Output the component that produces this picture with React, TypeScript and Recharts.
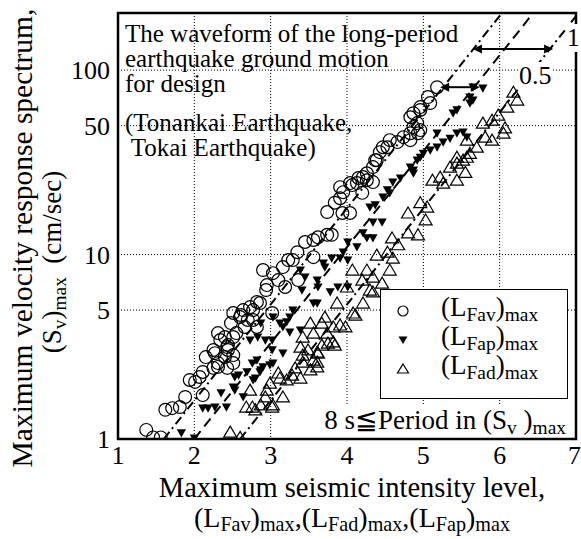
import React from 'react';
import { ScatterChart, Scatter, XAxis, YAxis, CartesianGrid, ReferenceLine, ReferenceArea } from 'recharts';

const xTicks = [1, 2, 3, 4, 5, 6, 7];
const yTicks = [1, 5, 10, 50, 100];

// (L_Fav)max vs (Sv)max
const favPoints = [
    [1.37, 1.12], [1.46, 1.02], [1.56, 1.02], [1.62, 1.44], [1.71, 1.47], [1.81, 1.49], [1.88, 1.69],
    [1.94, 2.09], [2.01, 2.04], [2.07, 2.17], [2.11, 2.31], [2.11, 1.73], [2.15, 2.78], [2.25, 2.43],
    [2.31, 2.58], [2.27, 2.92], [2.31, 2.46], [2.43, 2.43], [2.51, 2.58], [2.4, 2.78], [2.44, 3.04],
    [2.44, 3.23], [2.51, 2.85], [2.31, 3.75], [2.4, 3.57], [2.48, 4.25], [2.55, 3.75], [2.61, 4.7],
    [2.66, 4.05], [2.77, 4.42], [2.86, 5.46], [2.94, 6.42], [2.34, 3.44], [2.25, 3.04], [2.51, 3.57],
    [2.43, 3.15], [2.51, 4.82], [2.6, 4.58], [2.7, 4.42], [2.77, 5.0], [2.82, 4.05], [3.02, 4.82],
    [2.64, 5.0], [2.73, 5.19], [2.82, 5.53], [2.9, 8.24], [2.95, 6.83], [3.03, 7.93], [3.1, 7.27],
    [3.19, 6.67], [3.16, 8.55], [3.23, 9.33], [3.29, 9.33], [3.35, 10.3], [3.36, 7.27], [3.45, 11.7],
    [3.56, 9.68], [3.56, 12.0], [3.62, 12.4], [3.74, 12.8], [3.8, 12.8], [3.74, 17.0], [3.84, 19.1],
    [3.91, 20.2], [3.94, 16.8], [4.04, 16.8], [3.95, 21.8], [4.07, 23.8], [4.13, 24.4], [4.2, 21.6],
    [4.26, 25.3], [4.34, 24.7], [3.91, 23.2], [4.04, 24.4], [4.15, 26.0], [4.21, 26.3], [4.26, 27.6],
    [4.34, 29.8], [4.37, 32.5], [4.43, 35.9], [4.47, 38.2], [4.56, 41.7], [4.66, 40.7], [4.74, 43.3],
    [4.83, 55.5], [4.87, 58.4], [4.96, 60.8], [4.92, 51.6], [4.87, 49.1], [4.96, 47.3], [4.93, 45.5],
    [4.83, 45.5], [4.83, 41.7], [5.06, 71.4], [5.09, 66.3], [4.96, 63.0], [5.18, 80.8], [4.53, 38.2],
    [4.39, 32.5],
];

// (L_Fap)max vs (Sv)max
const fapPoints = [
    [1.83, 1.08], [2.0, 1.01], [2.11, 1.47], [2.18, 1.47], [2.27, 1.49], [2.42, 1.49], [2.35, 1.78],
    [2.53, 1.84], [2.53, 2.17], [2.64, 1.69], [2.58, 2.22], [2.8, 2.14], [2.87, 2.37], [2.83, 3.57],
    [2.87, 4.25], [2.93, 3.44], [2.51, 1.91], [2.69, 2.31], [2.76, 2.58], [2.86, 2.31], [2.99, 2.52],
    [3.02, 3.44], [2.82, 2.68], [3.03, 4.58], [3.16, 4.05], [3.25, 3.8], [3.21, 4.31], [3.02, 3.04],
    [3.16, 2.92], [3.03, 2.58], [2.77, 2.09], [2.9, 2.46], [3.39, 3.9], [3.61, 5.46], [3.78, 6.27],
    [3.29, 5.0], [2.73, 3.44], [3.39, 8.24], [3.45, 7.54], [3.61, 7.27], [3.62, 6.67], [3.71, 8.55],
    [3.8, 9.56], [3.88, 6.67], [4.01, 6.67], [3.95, 10.3], [4.01, 9.33], [4.01, 11.7], [4.13, 11.0],
    [4.26, 12.3], [4.34, 12.3], [4.34, 15.0], [4.46, 15.0], [4.3, 18.1], [4.37, 18.6], [4.47, 20.5],
    [4.53, 22.4], [4.56, 21.6], [3.56, 5.46], [3.41, 6.42], [4.21, 13.1], [3.91, 9.56], [3.69, 8.98],
    [3.25, 4.58], [3.12, 4.25], [4.6, 24.7], [4.7, 26.0], [4.83, 29.8], [4.87, 28.7], [4.92, 32.5],
    [4.96, 33.7], [5.09, 36.8], [5.18, 38.2], [5.26, 40.7], [5.35, 42.7], [5.44, 45.5], [5.52, 46.1],
    [5.39, 58.4], [5.44, 60.8], [5.61, 66.3], [5.65, 68.8], [5.61, 71.4], [5.65, 80.8], [5.78, 79.8],
    [5.18, 45.5], [5.0, 35.4], [4.87, 27.6], [5.57, 43.3],
];

// (L_Fad)max vs (Sv)max
const fadPoints = [
    [2.47, 1.09], [2.6, 1.02], [2.68, 1.49], [2.73, 1.84], [2.8, 1.44], [2.87, 1.53], [2.93, 1.69],
    [2.76, 1.49], [3.02, 1.49], [3.16, 1.69], [2.95, 1.84], [3.12, 2.14], [3.28, 2.22], [3.39, 2.14],
    [3.42, 2.85], [3.56, 2.68], [3.61, 2.46], [3.62, 2.92], [3.82, 3.36], [3.03, 1.53], [2.99, 2.01],
    [3.1, 2.28], [3.21, 2.09], [3.32, 2.43], [3.42, 2.61], [3.52, 2.37], [3.61, 2.61], [3.61, 2.96],
    [3.49, 3.04], [3.39, 3.15], [3.42, 3.57], [3.56, 3.75], [3.67, 3.23], [3.75, 3.31], [3.84, 3.23],
    [3.74, 3.75], [3.82, 4.05], [3.91, 4.15], [3.67, 4.25], [3.52, 4.25], [3.87, 5.46], [3.98, 4.05],
    [4.11, 4.7], [4.21, 5.46], [4.34, 6.27], [4.07, 8.24], [4.26, 8.24], [4.39, 9.93], [4.53, 10.3],
    [4.2, 7.27], [4.3, 6.42], [4.46, 7.0], [4.0, 6.67], [4.59, 12.3], [4.56, 8.24], [4.34, 7.54],
    [4.08, 4.82], [3.71, 4.58], [5.12, 25.3], [5.26, 24.4], [5.44, 25.3], [5.55, 27.9], [4.96, 19.1],
    [5.05, 18.1], [4.8, 16.8], [5.03, 15.4], [4.8, 13.1], [4.93, 12.8], [4.67, 11.3], [4.6, 9.56],
    [5.57, 41.7], [5.7, 38.2], [5.61, 35.4], [5.52, 32.5], [5.44, 31.3], [5.35, 29.8], [5.22, 26.3],
    [5.44, 33.7], [6.23, 68.8], [6.1, 63.0], [5.98, 57.0], [5.9, 53.5], [6.07, 48.6], [6.05, 45.5],
    [5.81, 43.3], [5.9, 41.7], [5.57, 33.7], [5.78, 51.6], [6.18, 75.9],
];

// guide lines (two ends each)
const dashDotLeft = [[1.6, 1], [6.03, 204]];
const dashedMid = [[2.0, 1], [6.44, 204]];
const dashDotRight = [[2.6, 1], [7, 196]];
const arrowOne = [[5.65, 130], [6.7, 130]];
const arrowHalf = [[5.22, 80.8], [5.74, 80.8]];

const toXY = (arr: number[][]) => arr.map(([x, y]) => ({ x, y }));

const serif = '"Liberation Serif", "DejaVu Serif", serif';

const OpenCircle = (p: any) => <circle cx={p.cx} cy={p.cy} r={6.4} fill="none" stroke="#000" strokeWidth={1.2} />;
const DownTri = (p: any) => (
    <polygon points={`${p.cx - 4.6},${p.cy - 3.6} ${p.cx + 4.6},${p.cy - 3.6} ${p.cx},${p.cy + 4.6}`} fill="#000" />
);
const UpTri = (p: any) => (
    <polygon points={`${p.cx},${p.cy - 6} ${p.cx + 6.5},${p.cy + 5} ${p.cx - 6.5},${p.cy + 5}`} fill="none" stroke="#000" strokeWidth={1.2} />
);

const DoubleArrow = (p: any) => {
    const { x1, y1, x2, y2 } = p;
    return (
        <g>
            <line x1={x1 + 7} y1={y1} x2={x2 - 7} y2={y2} stroke="#000" strokeWidth={2} />
            <polygon points={`${x1},${y1} ${x1 + 9},${y1 - 4.5} ${x1 + 9},${y1 + 4.5}`} fill="#000" />
            <polygon points={`${x2},${y2} ${x2 - 9},${y2 - 4.5} ${x2 - 9},${y2 + 4.5}`} fill="#000" />
        </g>
    );
};

const sub = { fontSize: '0.72em', verticalAlign: '-0.25em' } as const;
const subLow = { fontSize: '0.72em', verticalAlign: '-0.18em', lineHeight: 1 } as const;

const LegendBox = () => (
    <div style={{ position: 'absolute', left: 380, top: 289, width: 186, height: 108, border: '1.5px solid #000', background: '#fff', fontFamily: serif, fontSize: 27 }}>
        {[
            ['Fav', <circle cx={8} cy={8} r={5} fill="none" stroke="#000" strokeWidth={1.2} />],
            ['Fap', <polygon points="3.5,4.5 12.5,4.5 8,12" fill="#000" />],
            ['Fad', <polygon points="8,3 13.5,12 2.5,12" fill="none" stroke="#000" strokeWidth={1.2} />],
        ].map(([name, icon], i) => (
            <div key={i} style={{ position: 'absolute', left: 14, top: 6 + i * 29, height: 30, display: 'flex', alignItems: 'center', whiteSpace: 'nowrap' }}>
                <svg width={16} height={16} style={{ marginRight: 30 }}>{icon}</svg>
                <span style={{ lineHeight: '30px' }}>(L<span style={sub}>{name}</span>)<span style={sub}>max</span></span>
            </div>
        ))}
    </div>
);

export default function App() {
    return (
        <div style={{ position: 'relative', width: 581, height: 539, background: '#fff', fontFamily: serif, color: '#000', overflow: 'hidden' }}>
            <style>{'body{margin:0}'}</style>
            <ScatterChart width={581} height={539} margin={{ top: 13, right: 5, left: 0, bottom: 0 }}>
                <CartesianGrid stroke="#000" strokeWidth={1} strokeDasharray="1 2" />
                <XAxis
                    type="number"
                    dataKey="x"
                    domain={[1, 7]}
                    ticks={xTicks}
                    height={100}
                    axisLine={false}
                    tickLine={false}
                    tick={{ fontSize: 26, fill: '#000', fontFamily: serif }}
                    tickMargin={1}
                    allowDataOverflow
                />
                <YAxis
                    type="number"
                    dataKey="y"
                    scale="log"
                    domain={[1, 204]}
                    ticks={yTicks}
                    width={118}
                    axisLine={false}
                    tickLine={false}
                    tick={{ fontSize: 26, fill: '#000', fontFamily: serif }}
                    allowDataOverflow
                />
                <ReferenceLine segment={toXY(dashDotLeft)} stroke="#000" strokeWidth={2} strokeDasharray="9 4 2 4" ifOverflow="visible" />
                <ReferenceLine segment={toXY(dashedMid)} stroke="#000" strokeWidth={2} strokeDasharray="10 6" ifOverflow="visible" />
                <ReferenceLine segment={toXY(dashDotRight)} stroke="#000" strokeWidth={2} strokeDasharray="9 4 2 4" ifOverflow="visible" />
                <Scatter data={toXY(favPoints)} shape={OpenCircle} isAnimationActive={false} />
                <Scatter data={toXY(fadPoints)} shape={UpTri} isAnimationActive={false} />
                <Scatter data={toXY(fapPoints)} shape={DownTri} isAnimationActive={false} />
                <ReferenceLine segment={toXY(arrowOne)} shape={DoubleArrow} ifOverflow="visible" />
                <ReferenceLine segment={toXY(arrowHalf)} shape={DoubleArrow} ifOverflow="visible" />
                <ReferenceArea x1={1} x2={7} y1={1} y2={204} fill="none" stroke="#000" strokeWidth={2.5} fillOpacity={0} ifOverflow="visible" />
            </ScatterChart>

            {/* annotation in plot */}
            <div style={{ position: 'absolute', left: 125, top: 21, fontSize: 25, lineHeight: '25px', whiteSpace: 'pre' }}>
                {'The waveform of the long-period\nearthquake ground motion\nfor design'}
            </div>
            <div style={{ position: 'absolute', left: 125, top: 110, fontSize: 25, lineHeight: '25px', whiteSpace: 'pre' }}>
                {'(Tonankai Earthquake,\n Tokai Earthquake)'}
            </div>
            <div style={{ position: 'absolute', left: 566, top: 24, fontSize: 25, lineHeight: '28px', background: '#fff', paddingLeft: 1 }}>1</div>
            <div style={{ position: 'absolute', left: 519, top: 62, fontSize: 26, lineHeight: '28px', background: '#fff' }}>0.5</div>

            <LegendBox />

            <div style={{ position: 'absolute', left: 304, top: 404, width: 262, height: 33, background: '#fff', fontSize: 27, lineHeight: '33px', textAlign: 'right', whiteSpace: 'nowrap' }}>
                8 s≦Period in (S<span style={sub}>v</span> )<span style={sub}>max</span>
            </div>

            {/* axis titles */}
            <div style={{ position: 'absolute', left: 152, top: 474, width: 400, textAlign: 'center', fontSize: 28.5, lineHeight: '28px', whiteSpace: 'nowrap' }}>
                Maximum seismic intensity level,
            </div>
            <div style={{ position: 'absolute', left: 152, top: 504, width: 400, textAlign: 'center', fontSize: 28, lineHeight: '28px', whiteSpace: 'nowrap' }}>
                (L<span style={subLow}>Fav</span>)<span style={subLow}>max</span>,(L<span style={subLow}>Fad</span>)<span style={subLow}>max</span>,(L<span style={subLow}>Fap</span>)<span style={subLow}>max</span>
            </div>
            <div style={{ position: 'absolute', left: 22 - 270, top: 238 - 16, width: 540, height: 32, textAlign: 'center', fontSize: 29.5, lineHeight: '32px', whiteSpace: 'nowrap', transform: 'rotate(-90deg)' }}>
                Maximum velocity response spectrum,
            </div>
            <div style={{ position: 'absolute', left: 52 - 200, top: 262 - 16, width: 400, height: 32, textAlign: 'center', fontSize: 27, lineHeight: '32px', whiteSpace: 'pre', transform: 'rotate(-90deg)' }}>
                (S<span style={sub}>v</span>)<span style={sub}>max</span>{'  '}(cm/sec)
            </div>
        </div>
    );
}
